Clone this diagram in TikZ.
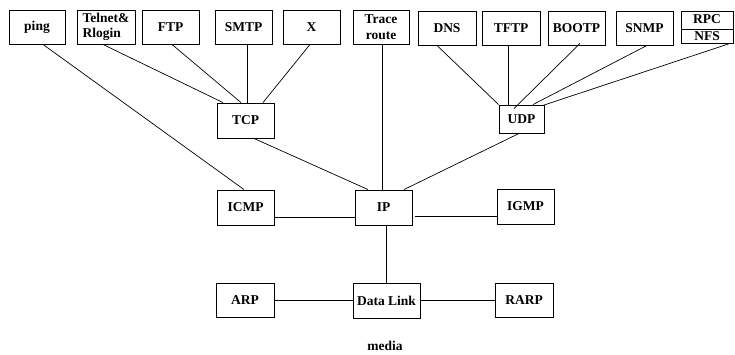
\documentclass[tikz,border=0pt]{standalone}
\usepackage{fontspec}
\setmainfont{Liberation Serif}
\usetikzlibrary{calc}
\begin{document}
\begin{tikzpicture}[x=1pt,y=-1pt,
  box/.style={draw, line width=0.9pt, minimum width=57pt, minimum height=34pt,
    inner sep=0pt, font=\fontsize{13.5}{15.5}\selectfont\bfseries, align=center},
  lbl/.style={inner sep=0pt, font=\fontsize{13.5}{15.5}\selectfont\bfseries},
  link/.style={line width=0.7pt}]
\useasboundingbox (0,0) rectangle (735,354);

% application layer
\node[box, minimum width=56pt] (ping) at (37,27) {ping};
\node[box, minimum width=58pt, align=left] (telnet) at (106,27) {Telnet\&\\Rlogin};
\node[box] (ftp) at (170.5,27) {FTP};
\node[box] (smtp) at (243.5,27) {SMTP};
\node[box] (xwin) at (311.5,27) {X};
\node[box, minimum width=56pt] (trace) at (381,27) {Trace\\route};
\node[box, minimum width=58pt] (dns) at (447,28) {DNS};
\node[box, minimum width=58pt] (tftp) at (511,28) {TFTP};
\node[box] (bootp) at (576.5,28) {BOOTP};
\node[box] (snmp) at (644.5,28) {SNMP};
\node[box, minimum width=52pt, minimum height=32pt] (rpc) at (707,27) {};
\draw[line width=0.9pt] ([yshift=-2pt]rpc.west) -- ([yshift=-2pt]rpc.east);
\node[lbl] (rpct) at (707,19.5) {RPC};
\node[lbl] (nfst) at (707,36) {NFS};

% transport layer
\node[box, minimum height=35pt] (tcp) at (245.5,120.5) {TCP};
\node[box, minimum width=45pt, minimum height=28pt] (udp) at (521.5,119) {UDP};

% network layer
\node[box, minimum height=35pt] (icmp) at (245.5,207.5) {ICMP};
\node[box, minimum height=35pt] (ip) at (383.5,207.5) {IP};
\node[box, minimum height=35pt] (igmp) at (525.5,206.5) {IGMP};

% link layer
\node[box, minimum width=58pt] (arp) at (245,300) {ARP};
\node[box, minimum width=67pt, minimum height=35pt] (dl) at (386.5,300.5) {Data Link};
\node[box, minimum width=58pt] (rarp) at (524,300) {RARP};
\node[lbl] (media) at (385,346) {media};

% connectors to TCP
\draw[link] ([xshift=-3pt]telnet.south) -- ([xshift=-22.5pt]tcp.north);
\draw[link] ([xshift=1.5pt]ftp.south) -- ([xshift=-4.5pt]tcp.north);
\draw[link] ([xshift=3.5pt]smtp.south) -- ([xshift=1.5pt]tcp.north);
\draw[link] ([xshift=-1.5pt]xwin.south) -- ([xshift=17.5pt]tcp.north);

% connectors to UDP
\draw[link] ([xshift=-10pt]dns.south) -- (udp.north west);
\draw[link] ([xshift=-3pt]tftp.south) -- ([xshift=-13.5pt]udp.north);
\draw[link] ([xshift=3.5pt,yshift=2pt]bootp.south) -- ([xshift=-7.5pt,yshift=-4pt]udp.north);
\draw[link] ([xshift=2.5pt]snmp.south) -- ([xshift=11.5pt]udp.north);
\draw[link] ([xshift=23pt]rpc.south) -- ([xshift=-2pt,yshift=-1pt]udp.north east);

% connectors to IP
\draw[link] ([xshift=6pt]ping.south) -- ([xshift=-1.5pt]icmp.north);
\draw[link] ([xshift=8.5pt]tcp.south) -- ([xshift=-15.5pt]ip.north);
\draw[link] ([xshift=1pt]trace.south) -- ([xshift=-1.5pt]ip.north);
\draw[link] ([xshift=-2.5pt]udp.south) -- ([xshift=20.5pt]ip.north);
\draw[link] ([yshift=-9.5pt]icmp.east) -- ([yshift=-9.5pt]ip.west);
\draw[link] ([xshift=3pt,yshift=-8.5pt]ip.east) -- ([yshift=-9.5pt]igmp.west);
\draw[link] ([xshift=2.5pt]ip.south) -- ([xshift=-0.5pt]dl.north);

% link layer connectors
\draw[link] (arp.east) -- (arp.east -| dl.west);
\draw[link] (dl.east) -- (dl.east -| rarp.west);
\end{tikzpicture}
\end{document}
